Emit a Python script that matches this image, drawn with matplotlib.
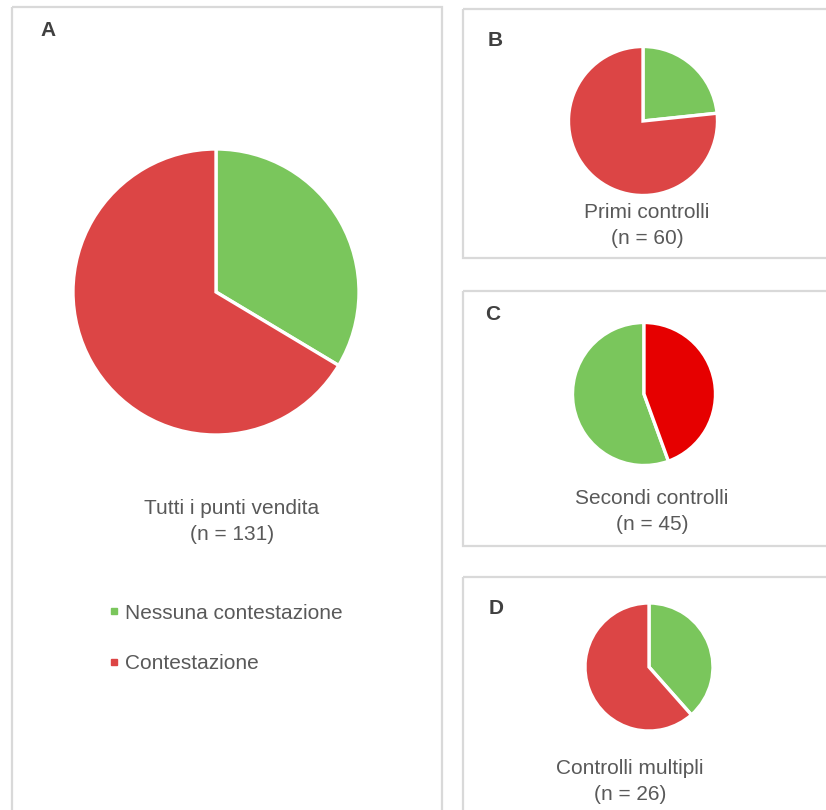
import matplotlib.pyplot as plt
from matplotlib.patches import Rectangle
from matplotlib.lines import Line2D

# ================= dati =================
categories = ['Nessuna contestazione', 'Contestazione']
panel_letters = ['A', 'B', 'C', 'D']
panel_titles = ['Tutti i punti vendita', 'Primi controlli', 'Secondi controlli', 'Controlli multipli']
n_totals = [131, 60, 45, 26]
nessuna = [44, 14, 25, 10]
contestazione = [87, 46, 20, 16]

# ================= stile / layout (pixel) =================
W, H = 826, 810
GREEN = '#7AC65C'
RED = '#DC4545'
RED_C = '#E60000'
TXT = '#595959'
LET = '#404040'
BORDER = '#D9D9D9'

pie_centers = [(216, 292), (643, 121), (644, 394), (649, 667)]
pie_radii = [143, 74.5, 71.5, 64]
red_colors = [RED, RED, RED_C, RED]
counterclock = [False, False, True, False]
letter_pos = [(48, 31), (495, 40), (493, 314), (496, 609)]
title_pos = [(232, 509), (647, 213), (652, 498), (630, 769)]
frames = [(12, 7, 430, 830), (463, 9, 400, 249), (463, 291, 400, 255), (463, 577, 400, 300)]

plt.rcParams['font.family'] = ['Liberation Sans', 'DejaVu Sans']

fig = plt.figure(figsize=(W / 100, H / 100), dpi=100)
fig.patch.set_facecolor('white')

# asse di sfondo in coordinate pixel
bg = fig.add_axes([0, 0, 1, 1])
bg.set_xlim(0, W)
bg.set_ylim(H, 0)
bg.axis('off')

for (x, y, w, h) in frames:
    bg.add_patch(Rectangle((x, y), w, h, fill=False, edgecolor=BORDER, linewidth=1.6))

for i in range(4):
    cx, cy = pie_centers[i]
    r = pie_radii[i]
    ax = fig.add_axes([(cx - r) / W, (H - cy - r) / H, 2 * r / W, 2 * r / H])
    wedges, _ = ax.pie([nessuna[i], contestazione[i]], colors=[GREEN, red_colors[i]],
                       startangle=90, counterclock=counterclock[i], radius=1,
                       wedgeprops=dict(edgecolor='white', linewidth=2.4))
    ax.set_xlim(-1.0, 1.0)
    ax.set_ylim(-1.0, 1.0)
    ax.axis('off')

    lx, ly = letter_pos[i]
    bg.text(lx, ly, panel_letters[i], fontsize=15, fontweight='bold', color=LET,
            ha='center', va='center')
    tx, ty = title_pos[i]
    bg.text(tx, ty, panel_titles[i], fontsize=15, color=TXT, ha='center', va='center')
    bg.text(tx, ty + 26, f'(n = {n_totals[i]})', fontsize=15, color=TXT,
            ha='center', va='center')

# legenda del pannello A
handles = [Line2D([], [], marker='s', linestyle='none', color=c, markersize=4.6)
           for c in [GREEN, RED]]
bg.legend(handles, categories, loc='upper left', bbox_to_anchor=(90, 585),
          bbox_transform=bg.transData, frameon=False, fontsize=15,
          handlelength=0.5, handletextpad=0.3, labelspacing=1.5, labelcolor=TXT)

fig.savefig('out.png', dpi=100, facecolor='white')
